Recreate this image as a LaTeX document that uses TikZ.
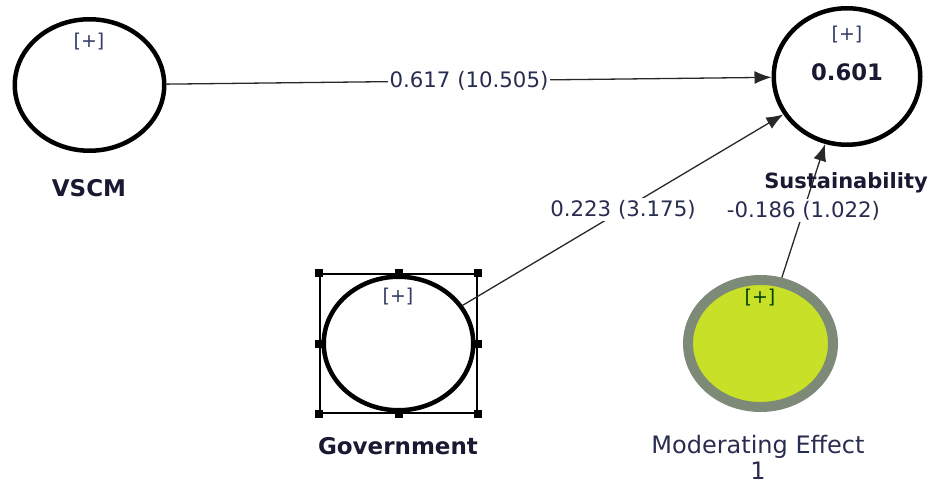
\documentclass[tikz,border=0pt]{standalone}
\usepackage{fontspec}
\setmainfont{DejaVu Sans}
\usetikzlibrary{shapes.geometric,arrows.meta}
\definecolor{numcol}{RGB}{40,45,80}
\definecolor{labcol}{RGB}{25,25,50}
\definecolor{pluscol}{RGB}{50,60,100}
\definecolor{modfill}{RGB}{200,225,40}
\definecolor{modedge}{RGB}{125,138,120}
\definecolor{linecol}{RGB}{40,40,40}
\tikzset{
  lv/.style={ellipse, draw=black, line width=4.5pt, fill=white, inner sep=0pt},
  plusmark/.style={font=\fontsize{19}{22}\selectfont, text=pluscol, inner sep=0pt},
  namelab/.style={font=\bfseries\fontsize{23}{27}\selectfont, text=labcol, inner sep=0pt},
  coef/.style={font=\fontsize{21.3}{25}\selectfont, text=numcol, fill=white, inner sep=2pt},
  conn/.style={draw=linecol, line width=1.3pt, -{Latex[length=17pt,width=13pt]}},
  handle/.style={fill=black, draw=none, minimum size=8pt, inner sep=0pt},
  selbox/.style={draw=black, line width=1.3pt, minimum width=157pt, minimum height=139pt, inner sep=0pt}
}
\begin{document}
\begin{tikzpicture}[x=1pt,y=-1pt]
\useasboundingbox (0,0) rectangle (929,481);
% selection rectangle around Government
\node[selbox] (sel) at (398.5,343.5) {};
% latent variables
\node[lv, minimum width=149.5pt, minimum height=131.5pt] (vscm) at (89.5,85) {};
\node[lv, minimum width=146.5pt, minimum height=136.5pt] (sust) at (847,76.5) {};
\node[lv, minimum width=149.5pt, minimum height=133.5pt] (gov) at (398.5,343.5) {};
\node[ellipse, fill=modfill, draw=modedge, line width=10pt, minimum width=145pt, minimum height=127pt, inner sep=0pt] (mod) at (760.5,343.5) {};
% handles
\foreach \a [count=\i] in {north west,north,north east,east,south east,south,south west,west}
  \node[handle] (h\i) at (sel.\a) {};
% [+] marks
\node[plusmark] (p1) at (89,42) {[+]};
\node[plusmark] (p2) at (847,35) {[+]};
\node[plusmark] (p3) at (398,297) {[+]};
\node[plusmark, text=black!75!green] (p4) at (760,298) {[+]};
\node[font=\bfseries\fontsize{22.7}{26}\selectfont, text=labcol, inner sep=0pt] (r2) at (847,72) {0.601};
% names
\node[namelab] (l1) at (89,188) {VSCM};
\node[namelab, font=\bfseries\fontsize{21}{25}\selectfont] (l2) at (846,183) {Sustainability};
\node[namelab] (l3) at (398,446) {Government};
\node[font=\fontsize{24}{26}\selectfont, text=numcol, align=center, inner sep=0pt] (l4) at (758,457) {Moderating Effect\\1};
% paths
\draw[conn] (vscm) -- node[coef] (c1) {0.617 (10.505)} (sust);
\draw[conn] (gov) -- node[coef] (c2) {0.223 (3.175)} (sust);
\draw[conn] (mod) -- node[coef] (c3) {-0.186 (1.022)} (sust);
\end{tikzpicture}
\end{document}
